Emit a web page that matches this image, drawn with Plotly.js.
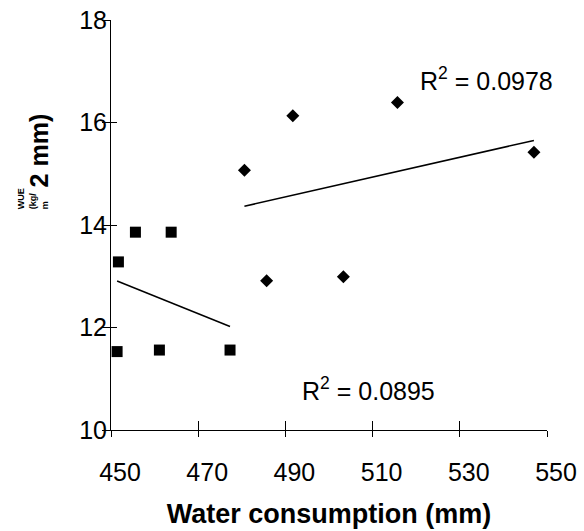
<!DOCTYPE html>
<html>
<head>
<meta charset="utf-8">
<script src="https://cdn.plot.ly/plotly-3.0.1.min.js"></script>
<style>html,body{margin:0;padding:0;background:#fff;}#chart{width:584px;height:531px;}</style>
</head>
<body>
<div id="chart"></div>
<script>
// Series 1 (squares)
var sqX = [451.7, 451.4, 455.6, 461.1, 463.8, 477.3];
var sqY = [13.28, 11.53, 13.86, 11.56, 13.86, 11.56];
// Series 2 (diamonds)
var dmX = [480.6, 485.7, 491.7, 503.3, 515.7, 547.0];
var dmY = [15.07, 12.91, 16.13, 12.99, 16.39, 15.42];
// R² labels
var r2Labels = ["0.0895", "0.0978"];
// Axis ticks
var xTicks = [450, 470, 490, 510, 530, 550];
var yTicks = [10, 12, 14, 16, 18];

function linfit(xs, ys) {
  var n = xs.length, mx = 0, my = 0;
  for (var i = 0; i < n; i++) { mx += xs[i]; my += ys[i]; }
  mx /= n; my /= n;
  var sxy = 0, sxx = 0;
  for (var j = 0; j < n; j++) { sxy += (xs[j]-mx)*(ys[j]-my); sxx += (xs[j]-mx)*(xs[j]-mx); }
  var b = sxy / sxx, a = my - b*mx;
  var x0 = Math.min.apply(null, xs), x1 = Math.max.apply(null, xs);
  return {x: [x0, x1], y: [a + b*x0, a + b*x1]};
}
var f1 = linfit(sqX, sqY), f2 = linfit(dmX, dmY);

var font = "Liberation Sans, Arial, sans-serif";
var traces = [
  {x: f1.x, y: f1.y, xaxis: 'x2', yaxis: 'y2', mode: 'lines', line: {color: '#000', width: 1.5}, hoverinfo: 'skip'},
  {x: f2.x, y: f2.y, xaxis: 'x2', yaxis: 'y2', mode: 'lines', line: {color: '#000', width: 1.5}, hoverinfo: 'skip'},
  {x: sqX, y: sqY, mode: 'markers', marker: {symbol: 'square', size: 11, color: '#000'}},
  {x: dmX, y: dmY, mode: 'markers', marker: {symbol: 'diamond', size: 10, color: '#000'}}
];

var xbase = {range: [450, 550], tickvals: xTicks, showgrid: false, zeroline: false, tickcolor: '#000', tickwidth: 1};
var ybase = {range: [10, 18], tickvals: yTicks, showgrid: false, zeroline: false, tickcolor: '#000', tickwidth: 1};

var layout = {
  width: 584, height: 531,
  margin: {l: 111, r: 37, t: 20, b: 101},
  paper_bgcolor: '#fff', plot_bgcolor: '#fff',
  showlegend: false,
  font: {family: font, color: '#000', size: 25},
  xaxis: Object.assign({}, xbase, {
    showline: true, linecolor: '#000', linewidth: 1,
    ticks: 'outside', ticklen: 6,
    ticktext: xTicks.map(String), tickfont: {size: 25, family: font, color: '#000'},
    ticklabelshift: 9, ticklabelstandoff: 14,
    title: {text: '<b>Water consumption (mm)</b>', font: {size: 27, family: font, color: '#000'}, standoff: 19}
  }),
  yaxis: Object.assign({}, ybase, {
    showline: true, linecolor: '#000', linewidth: 1,
    ticks: 'outside', ticklen: 8,
    showticklabels: false
  }),
  xaxis2: Object.assign({}, xbase, {overlaying: 'x', anchor: 'y2', side: 'bottom', ticks: 'inside', ticklen: 9, showticklabels: false, showline: false}),
  yaxis2: Object.assign({}, ybase, {overlaying: 'y', anchor: 'x2', side: 'left', ticks: 'inside', ticklen: 6, showline: false,
    showticklabels: true, tickfont: {size: 25, family: font, color: '#000'}, ticklabelstandoff: 3}),
  annotations: [
    {xref: 'paper', yref: 'paper', x: -0.176, y: 0.656, xanchor: 'center', yanchor: 'middle', textangle: -90, align: 'left', showarrow: false,
     font: {family: font, size: 9, color: '#000'},
     text: '<b>WUE<br>(kg/<br>m<span style="font-size:25px">  2 mm)</span></b>'},
    {xref: 'x', yref: 'y', x: 520.4, y: 16.85, xanchor: 'left', yanchor: 'middle', showarrow: false,
     font: {family: font, size: 25, color: '#000'}, text: 'R<sup>2</sup> = ' + r2Labels[1]},
    {xref: 'x', yref: 'y', x: 493.4, y: 10.8, xanchor: 'left', yanchor: 'middle', showarrow: false,
     font: {family: font, size: 25, color: '#000'}, text: 'R<sup>2</sup> = ' + r2Labels[0]}
  ]
};

Plotly.newPlot('chart', traces, layout, {displayModeBar: false, staticPlot: true});
</script>
</body>
</html>
